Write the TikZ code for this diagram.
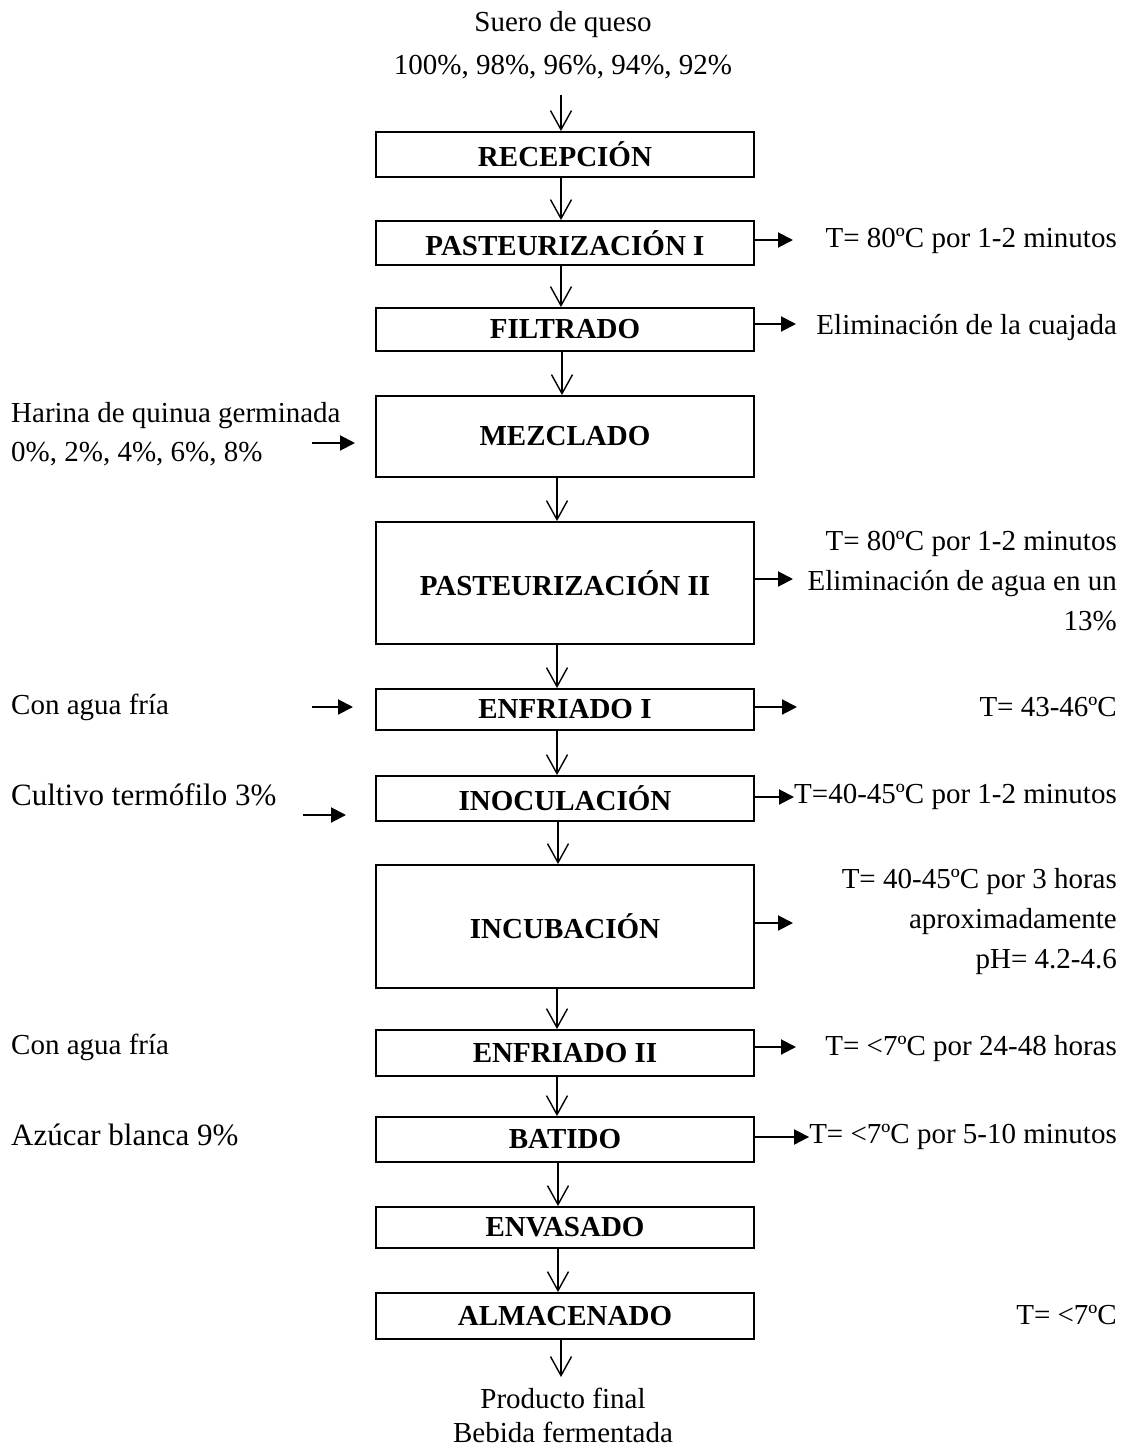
\documentclass[tikz,border=0pt]{standalone}
\usepackage{fontspec}
\setmainfont{Liberation Serif}
\usetikzlibrary{arrows.meta}
\begin{document}
\begin{tikzpicture}[x=1pt,y=-1pt,
  box/.style={draw, line width=1.9pt, minimum width=378pt, inner sep=0pt, font=\fontsize{29}{34}\selectfont\bfseries},
  txt/.style={font=\fontsize{29}{40}\selectfont, inner sep=0pt},
  bigtxt/.style={font=\fontsize{31}{38}\selectfont, inner sep=0pt},
  darr/.style={line width=1.4pt, -{Straight Barb[length=19pt,width=21pt,line width=1.4pt]}},
  rarr/.style={line width=2pt, -{Triangle[length=15pt,width=15pt]}},
]
\useasboundingbox (0,0) rectangle (1121,1448);

% top input
\node[txt] (src1) at (563,25) {Suero de queso};
\node[txt] (src2) at (563,67) {100\%, 98\%, 96\%, 94\%, 92\%};

% process boxes
\node[box, minimum height=45pt]  (b1)  at (565,154.5)  {RECEPCIÓN};
\node[box, minimum height=44pt]  (b2)  at (565,243)    {PASTEURIZACIÓN I};
\node[box, minimum height=43pt]  (b3)  at (565,329.5)  {FILTRADO};
\node[box, minimum height=81pt]  (b4)  at (565,436.5)  {MEZCLADO};
\node[box, minimum height=122pt] (b5)  at (565,583)    {PASTEURIZACIÓN II};
\node[box, minimum height=41pt]  (b6)  at (565,709.5)  {ENFRIADO I};
\node[box, minimum height=45pt]  (b7)  at (565,798.5)  {INOCULACIÓN};
\node[box, minimum height=123pt] (b8)  at (565,926.5)  {INCUBACIÓN};
\node[box, minimum height=46pt]  (b9)  at (565,1053)   {ENFRIADO II};
\node[box, minimum height=45pt]  (b10) at (565,1139.5) {BATIDO};
\node[box, minimum height=41pt]  (b11) at (565,1227.5) {ENVASADO};
\node[box, minimum height=46pt]  (b12) at (565,1316)   {ALMACENADO};

% bottom output
\node[txt] (out1) at (563,1398) {Producto final};
\node[txt] (out2) at (563,1432) {Bebida fermentada};

% vertical arrows
\coordinate (top) at (561,95);
\coordinate (bot) at (561,1377);
\draw[darr] (top) -- (top |- b1.north);
\draw[darr] ([xshift=-4pt]b1.south) -- ([xshift=-4pt]b2.north);
\draw[darr] ([xshift=-4pt]b2.south) -- ([xshift=-4pt]b3.north);
\draw[darr] ([xshift=-3pt]b3.south) -- ([xshift=-3pt]b4.north);
\draw[darr] ([xshift=-8pt]b4.south) -- ([xshift=-8pt]b5.north);
\draw[darr] ([xshift=-8pt]b5.south) -- ([xshift=-8pt]b6.north);
\draw[darr] ([xshift=-8pt]b6.south) -- ([xshift=-8pt]b7.north);
\draw[darr] ([xshift=-7pt]b7.south) -- ([xshift=-7pt]b8.north);
\draw[darr] ([xshift=-8pt]b8.south) -- ([xshift=-8pt]b9.north);
\draw[darr] ([xshift=-8pt]b9.south) -- ([xshift=-8pt]b10.north);
\draw[darr] ([xshift=-7pt]b10.south) -- ([xshift=-7pt]b11.north);
\draw[darr] ([xshift=-7pt]b11.south) -- ([xshift=-7pt]b12.north);
\draw[darr] (bot |- b12.south) -- (bot);

% left inputs
\node[txt, anchor=west] (in1a) at (11,416) {Harina de quinua germinada};
\node[txt, anchor=west] (in1b) at (11,454) {0\%, 2\%, 4\%, 6\%, 8\%};
\node[txt, anchor=west] (in2) at (11,707) {Con agua fría};
\node[bigtxt, anchor=west] (in3) at (11,795) {Cultivo termófilo 3\%};
\node[txt, anchor=west] (in4) at (11,1047) {Con agua fría};
\node[bigtxt, anchor=west] (in5) at (11,1135) {Azúcar blanca 9\%};

\coordinate (l1a) at (312,443);  \coordinate (l1b) at (355,443);
\coordinate (l2a) at (312,707);  \coordinate (l2b) at (353,707);
\coordinate (l3a) at (303,815);  \coordinate (l3b) at (346,815);
\draw[rarr] (l1a) -- (l1b);
\draw[rarr] (l2a) -- (l2b);
\draw[rarr] (l3a) -- (l3b);

% right outputs
\node[txt, anchor=east] (o2) at (1117,241) {T= 80ºC por 1-2 minutos};
\node[txt, anchor=east] (o3) at (1117,328) {Eliminación de la cuajada};
\node[txt, anchor=east, align=right] (o5) at (1117,581) {T= 80ºC por 1-2 minutos\\Eliminación de agua en un\\13\%};
\node[txt, anchor=east] (o6) at (1117,707) {T= 43-46ºC};
\node[txt, anchor=east] (o7) at (1117,797) {T=40-45ºC por 1-2 minutos};
\node[txt, anchor=east, align=right] (o8) at (1117,922) {T= 40-45ºC por 3 horas\\aproximadamente\\pH= 4.2-4.6};
\node[txt, anchor=east] (o9) at (1117,1049) {T= <7ºC por 24-48 horas};
\node[txt, anchor=east] (o10) at (1117,1137) {T= <7ºC por 5-10 minutos};
\node[txt, anchor=east] (o12) at (1117,1315) {T= <7ºC};

\coordinate (r2) at (793,240);
\coordinate (r3) at (796,324);
\coordinate (r5) at (793,579);
\coordinate (r6) at (797,707);
\coordinate (r8) at (793,923);
\coordinate (r9) at (796,1047);
\draw[rarr] (b2.east |- r2) -- (r2);
\draw[rarr] (b3.east |- r3) -- (r3);
\draw[rarr] (b5.east |- r5) -- (r5);
\draw[rarr] (b6.east |- r6) -- (r6);
\draw[rarr] (b7.east |- o7.west) -- (o7.west);
\draw[rarr] (b8.east |- r8) -- (r8);
\draw[rarr] (b9.east |- r9) -- (r9);
\draw[rarr] (b10.east |- o10.west) -- (o10.west);
\end{tikzpicture}
\end{document}
